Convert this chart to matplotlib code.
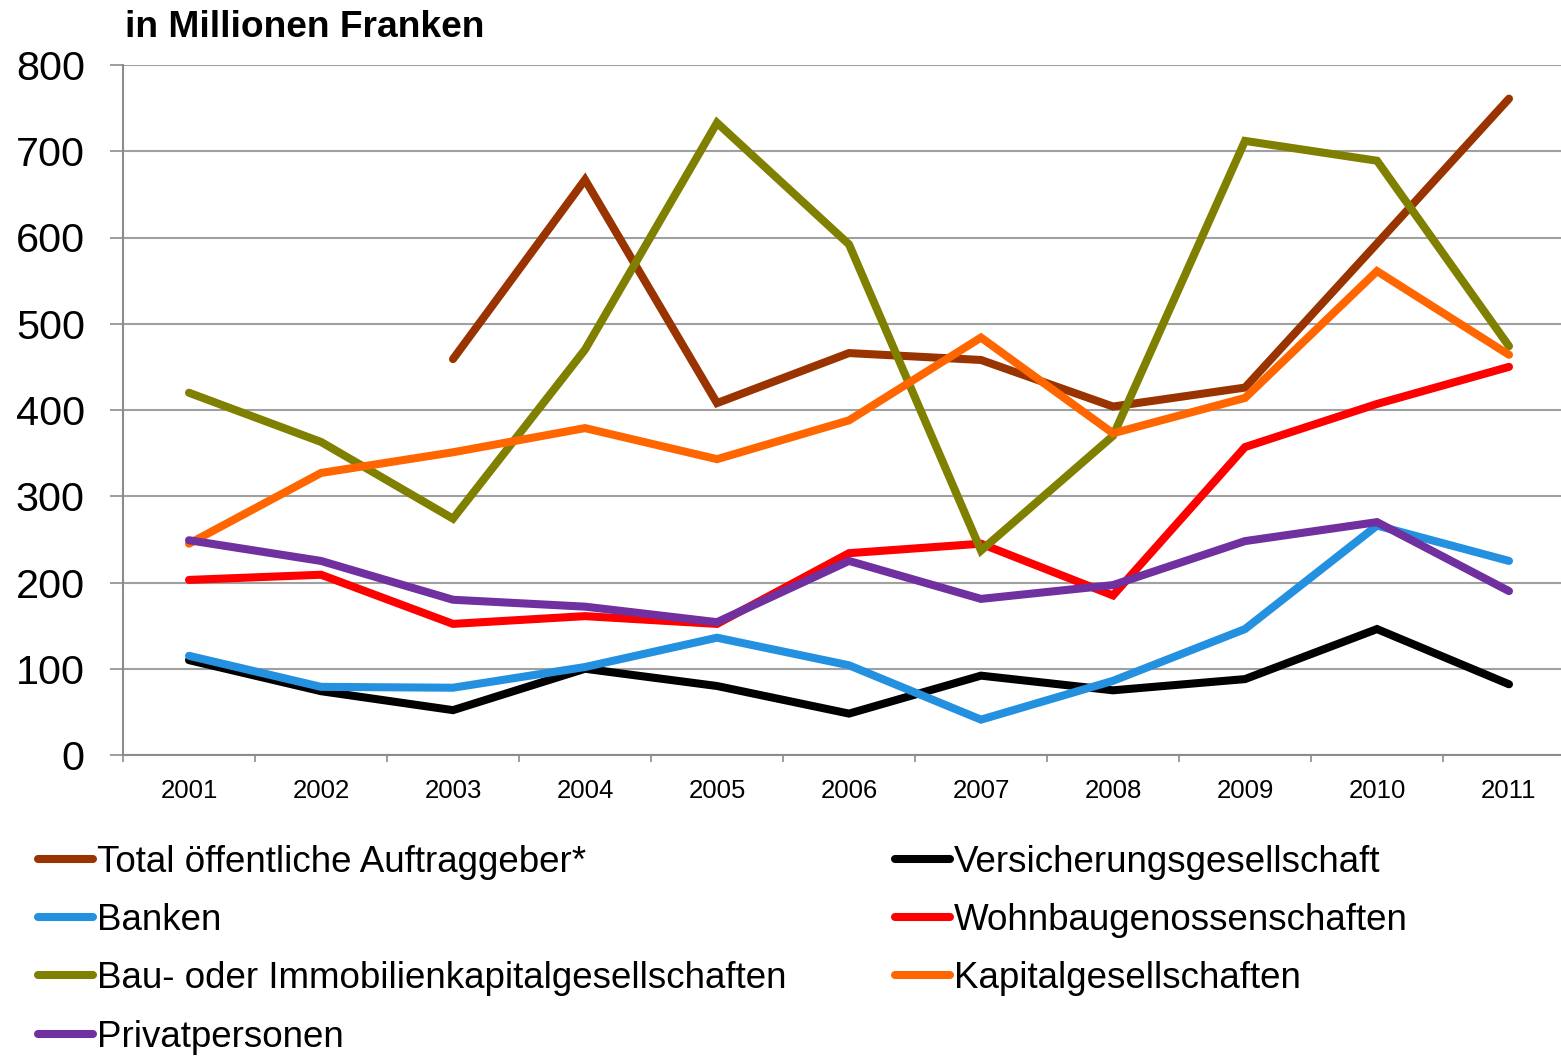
import numpy as np
import matplotlib
matplotlib.use("Agg")
import matplotlib.pyplot as plt
from matplotlib.lines import Line2D

plt.rcParams["font.family"] = ["Liberation Sans", "DejaVu Sans"]

years = ["2001", "2002", "2003", "2004", "2005", "2006", "2007", "2008", "2009", "2010", "2011"]

total_oeffentlich = [np.nan, np.nan, 459, 667, 408, 466, 458, 404, 426, 593, 761]
versicherung = [110, 74, 52, 100, 80, 48, 92, 75, 88, 146, 82]
banken = [115, 79, 78, 102, 136, 104, 41, 86, 146, 266, 225]
wohnbau = [203, 209, 152, 161, 152, 234, 245, 185, 357, 407, 450]
bau_immo = [420, 363, 274, 470, 733, 592, 237, 370, 712, 689, 474]
kapital = [245, 327, 351, 379, 343, 388, 484, 373, 414, 561, 464]
privat = [249, 225, 180, 172, 154, 225, 181, 197, 248, 270, 190]

series = [
    ("Total öffentliche Auftraggeber*", total_oeffentlich, "#993300"),
    ("Versicherungsgesellschaft", versicherung, "#000000"),
    ("Banken", banken, "#2390E0"),
    ("Wohnbaugenossenschaften", wohnbau, "#FF0000"),
    ("Bau- oder Immobilienkapitalgesellschaften", bau_immo, "#808000"),
    ("Kapitalgesellschaften", kapital, "#FF6600"),
    ("Privatpersonen", privat, "#7030A0"),
]

W, H = 1561, 1056
fig = plt.figure(figsize=(W / 100, H / 100), dpi=100)
ax = fig.add_axes([123 / W, (H - 755) / H, 11 * 132 / W, 690 / H])

x = np.arange(len(years))
handles = {}
for label, values, color in series:
    (ln,) = ax.plot(x, values, color=color, lw=5.8, solid_capstyle="round",
                    solid_joinstyle="miter", label=label)
    handles[label] = ln

ax.set_xlim(-0.5, len(years) - 0.5)
ax.set_ylim(0, 800)
ax.set_yticks(range(0, 801, 100))
ax.set_xticks(x)
ax.set_xticklabels(years)
ax.set_xticks(np.arange(-0.5, len(years), 1.0), minor=True)

ax.yaxis.grid(True, color="#A0A0A0", lw=1.5)
ax.set_axisbelow(True)
for side in ["top", "right"]:
    ax.spines[side].set_visible(False)
for side in ["left", "bottom"]:
    ax.spines[side].set_color("#8C8C8C")
    ax.spines[side].set_linewidth(1.5)

ax.tick_params(axis="y", length=9.5, width=1.2, color="#8C8C8C", pad=18, labelsize=29.8)
ax.tick_params(axis="x", which="major", length=0, pad=17, labelsize=18.5)
ax.tick_params(axis="x", which="minor", length=5, width=1.2, color="#8C8C8C")

fig.text(125 / W, 1 - 37 / H, "in Millionen Franken", fontsize=26.7, fontweight="bold",
         ha="left", va="baseline")

col1 = ["Total öffentliche Auftraggeber*", "Banken",
        "Bau- oder Immobilienkapitalgesellschaften", "Privatpersonen"]
col2 = ["Versicherungsgesellschaft", "Wohnbaugenossenschaften", "Kapitalgesellschaften"]


def proxy(label):
    c = handles[label].get_color()
    return Line2D([], [], color=c, lw=5.8, solid_capstyle="round")


leg_kw = dict(loc="upper left", frameon=False, fontsize=26.5, borderpad=0,
              handlelength=1.5, handletextpad=0.1, labelspacing=0.63,
              borderaxespad=0)
leg1 = fig.legend([proxy(l) for l in col1], col1,
                  bbox_to_anchor=(38 / W, 1 - 845 / H), **leg_kw)
leg2 = fig.legend([proxy(l) for l in col2], col2,
                  bbox_to_anchor=(895 / W, 1 - 845 / H), **leg_kw)

fig.savefig("out.png", dpi=100)
